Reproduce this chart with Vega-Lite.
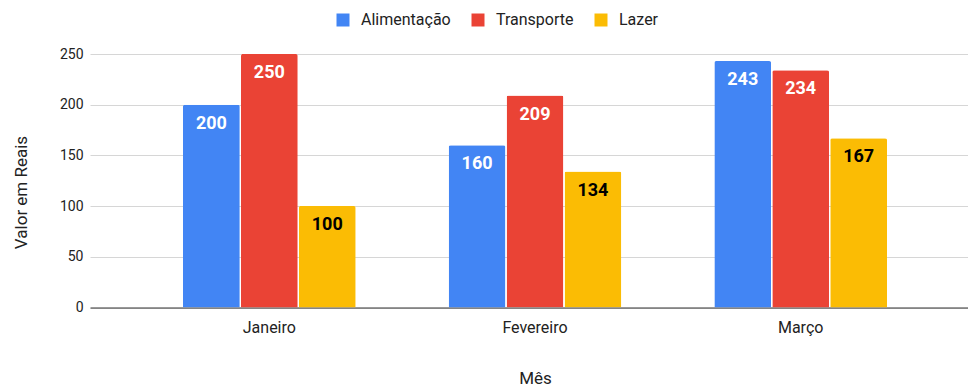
{
  "$schema": "https://vega.github.io/schema/vega-lite/v6.json",
  "width": 890,
  "height": 253.5,
  "autosize": {"type": "none"},
  "padding": {"left": 90, "top": 54, "right": 0, "bottom": 79.5},
  "config": {
    "view": {"stroke": null},
    "font": "Roboto",
    "axis": {"labelFont": "Roboto", "titleFont": "Roboto", "labelColor": "#222222", "titleColor": "#222222"}
  },
  "data": {
    "values": [
      {"mes": "Janeiro", "categoria": "Alimentação", "valor": 200},
      {"mes": "Janeiro", "categoria": "Transporte", "valor": 250},
      {"mes": "Janeiro", "categoria": "Lazer", "valor": 100},
      {"mes": "Fevereiro", "categoria": "Alimentação", "valor": 160},
      {"mes": "Fevereiro", "categoria": "Transporte", "valor": 209},
      {"mes": "Fevereiro", "categoria": "Lazer", "valor": 134},
      {"mes": "Março", "categoria": "Alimentação", "valor": 243},
      {"mes": "Março", "categoria": "Transporte", "valor": 234},
      {"mes": "Março", "categoria": "Lazer", "valor": 167}
    ]
  },
  "encoding": {
    "x": {
      "field": "mes",
      "type": "nominal",
      "sort": ["Janeiro", "Fevereiro", "Março"],
      "scale": {"paddingInner": 0.35, "paddingOuter": 0.35},
      "axis": {
        "title": "Mês",
        "titleFontSize": 17,
        "titleFontWeight": "normal",
        "titlePadding": 35,
        "labelAngle": 0,
        "labelFontSize": 16,
        "labelPadding": 12,
        "ticks": false,
        "domainColor": "#333333",
        "domainWidth": 1
      }
    },
    "xOffset": {
      "field": "categoria",
      "type": "nominal",
      "sort": ["Alimentação", "Transporte", "Lazer"],
      "scale": {"paddingInner": 0.02, "paddingOuter": 0}
    },
    "y": {
      "field": "valor",
      "type": "quantitative",
      "scale": {"domain": [0, 250], "nice": false},
      "axis": {
        "title": "Valor em Reais",
        "titleFontSize": 17,
        "titleFontWeight": "normal",
        "titleX": -69,
        "titleY": 138,
        "titleAngle": -90,
        "titleAlign": "center",
        "titleBaseline": "middle",
        "values": [0, 50, 100, 150, 200, 250],
        "labelFontSize": 14,
        "labelPadding": 7,
        "ticks": false,
        "domain": false,
        "gridColor": "#d6d6d6",
        "gridWidth": 1
      }
    }
  },
  "layer": [
    {
      "mark": {"type": "bar", "cornerRadiusTopLeft": 2, "cornerRadiusTopRight": 2},
      "encoding": {
        "color": {
          "field": "categoria",
          "type": "nominal",
          "sort": ["Alimentação", "Transporte", "Lazer"],
          "scale": {
            "domain": ["Alimentação", "Transporte", "Lazer"],
            "range": ["#4285F4", "#EA4335", "#FBBC04"]
          },
          "legend": {
            "title": null,
            "orient": "none",
            "direction": "horizontal",
            "legendX": 245,
            "legendY": -42,
            "symbolType": "square",
            "symbolSize": 169,
            "symbolStrokeWidth": 0,
            "labelFontSize": 16,
            "labelFont": "Roboto",
            "labelColor": "#222222",
            "labelOffset": 10,
            "columnPadding": 19,
            "padding": 0
          }
        }
      }
    },
    {
      "mark": {"type": "text", "baseline": "middle", "align": "center", "dy": 19, "fontSize": 18, "fontWeight": "bold"},
      "encoding": {
        "text": {"field": "valor", "type": "quantitative"},
        "color": {
          "condition": {"test": "datum.categoria === 'Lazer'", "value": "#000000"},
          "value": "#ffffff"
        }
      }
    }
  ]
}
